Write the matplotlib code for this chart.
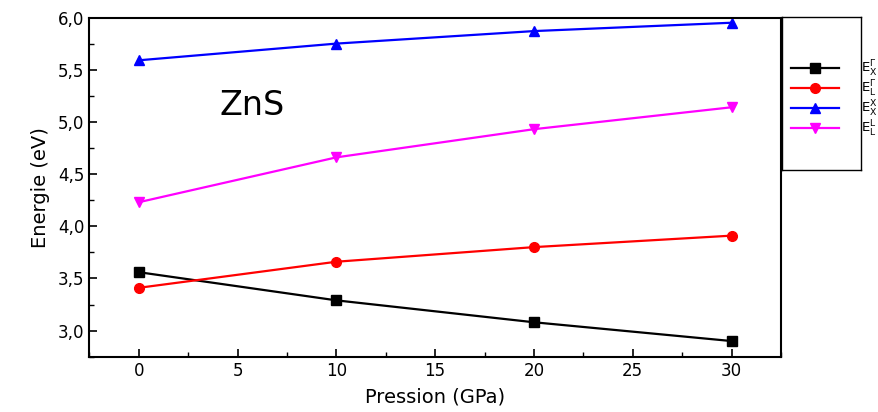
import numpy as np
import matplotlib
matplotlib.use('Agg')
import matplotlib.pyplot as plt
from matplotlib.ticker import MultipleLocator

plt.rcParams['font.family'] = ['DejaVu Sans']
plt.rcParams['mathtext.fontset'] = 'dejavusans'

pression = [0, 10, 20, 30]
e_x_gamma = [3.56, 3.29, 3.08, 2.90]
e_l_gamma = [3.41, 3.66, 3.80, 3.91]
e_x_x = [5.59, 5.75, 5.87, 5.95]
e_l_l = [4.23, 4.66, 4.93, 5.14]
labels = ['$\\mathrm{E}_\\mathrm{X}^\\Gamma$', '$\\mathrm{E}_\\mathrm{L}^\\Gamma$',
          '$\\mathrm{E}_\\mathrm{X}^\\mathrm{X}$', '$\\mathrm{E}_\\mathrm{L}^\\mathrm{L}$']


def comma(v, pos):
    return ('%.1f' % v).replace('.', ',')


fig = plt.figure(figsize=(8.79, 4.12), dpi=100)
ax = fig.add_axes([0.1016, 0.1342, 0.7869, 0.8233])

h1, = ax.plot(pression, e_x_gamma, color='black', marker='s', ms=6.5, lw=1.6)
h2, = ax.plot(pression, e_l_gamma, color='red', marker='o', ms=7, lw=1.6)
h3, = ax.plot(pression, e_x_x, color='blue', marker='^', ms=7.5, lw=1.6)
h4, = ax.plot(pression, e_l_l, color='#ff00ff', marker='v', ms=7.5, lw=1.6)

ax.set_xlim(-2.5, 32.5)
ax.set_ylim(2.75, 6.0)
ax.xaxis.set_major_locator(MultipleLocator(5))
ax.xaxis.set_minor_locator(MultipleLocator(2.5))
ax.yaxis.set_major_locator(MultipleLocator(0.5))
ax.yaxis.set_minor_locator(MultipleLocator(0.25))
ax.yaxis.set_major_formatter(plt.FuncFormatter(comma))
ax.tick_params(which='both', direction='in', top=False, right=False, labelsize=12)
ax.tick_params(which='major', length=6, width=1.2)
ax.tick_params(which='minor', length=3.5, width=1.0)
for s in ax.spines.values():
    s.set_linewidth(1.5)

ax.set_xlabel('Pression (GPa)', fontsize=14, labelpad=6)
ax.set_ylabel('Energie (eV)', fontsize=14, labelpad=6)
ax.text(4.1, 5.16, 'ZnS', fontsize=24, ha='left', va='center')

# legend box sits right of the axes, labels spill past its border
lax = fig.add_axes([0.8896, 0.5874, 0.0899, 0.371])
lax.set_xticks([])
lax.set_yticks([])
for s in lax.spines.values():
    s.set_linewidth(1.0)
leg = lax.legend([h1, h2, h3, h4], labels, loc='center left',
                 bbox_to_anchor=(0.12, 0.467), frameon=False, fontsize=9.5,
                 handlelength=3.6, handletextpad=1.7, labelspacing=0.0,
                 borderaxespad=0, borderpad=0)
for t in leg.get_texts():
    t.set_clip_on(False)

fig.savefig('out.png', dpi=100)
